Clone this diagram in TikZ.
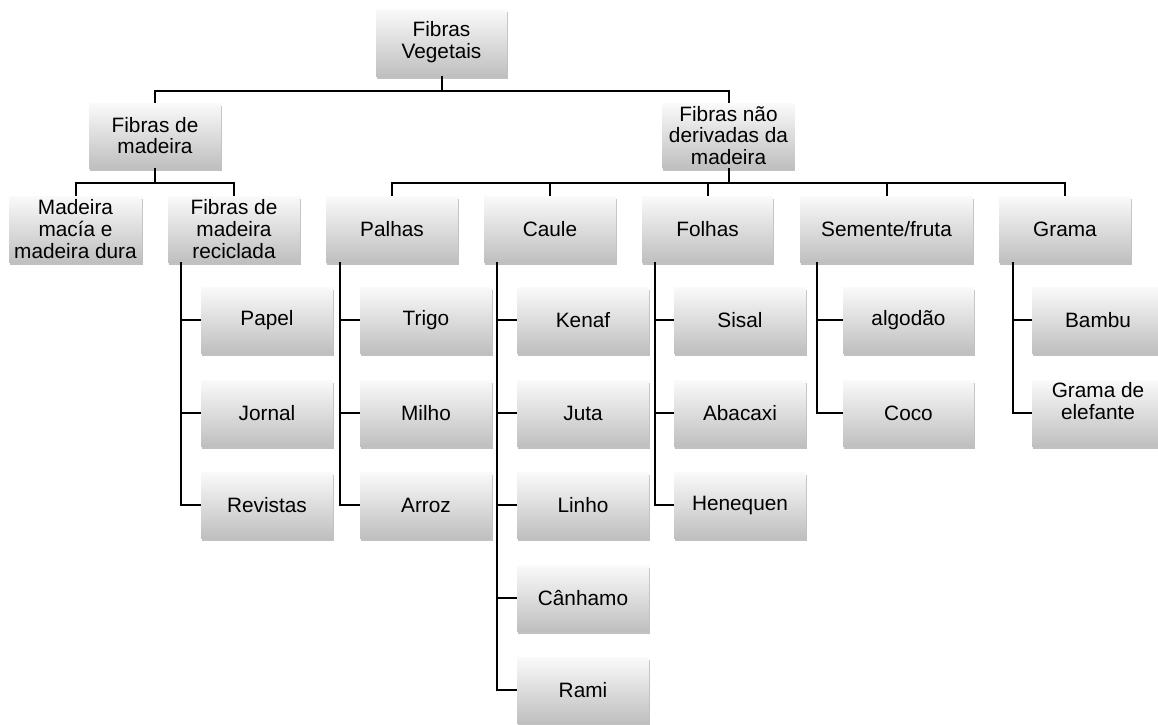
\documentclass[tikz,border=0pt]{standalone}
\usepackage{fontspec}
\setmainfont{Liberation Sans}
\usetikzlibrary{shadows}
\begin{document}
\begin{tikzpicture}[x=1pt,y=-1pt,
  box/.style={minimum width=132pt, minimum height=66pt, inner sep=0pt, align=center,
    top color=black!2, bottom color=black!25, draw=none,
    drop shadow={shadow xshift=0.6pt, shadow yshift=-2.5pt, opacity=0.35, fill=black!70},
    font=\fontsize{20.8}{21.8}\selectfont},
  conn/.style={draw=black, line width=2pt},
  stub/.style={draw=black, line width=1.7pt}]
\useasboundingbox (0,0) rectangle (1158,724);
% level 0
\node[box, minimum width=131pt, minimum height=67pt] (vegetais) at (441.5,42.5) {Fibras\\Vegetais};
% level 1
\node[box, minimum height=65pt] (madeira) at (155,135.5) {Fibras de\\madeira};
\node[box, minimum height=65pt] (naomad) at (728.5,135.5) {Fibras não\\derivadas da\\madeira};
% level 2
\node[box, minimum width=133pt] (macia) at (75.5,229) {Madeira\\macía e\\madeira dura};
\node[box] (recic) at (234,229) {Fibras de\\madeira\\reciclada};
\node[box] (palhas) at (392,229) {Palhas};
\node[box] (caule) at (550,229) {Caule};
\node[box, minimum width=131pt] (folhas) at (707.5,229) {Folhas};
\node[box, minimum width=173pt] (semente) at (886.5,229) {Semente/fruta};
\node[box] (grama) at (1065,229) {Grama};
% level 3
\node[box] (papel) at (267,320) {Papel};
\node[box] (jornal) at (267,413) {Jornal};
\node[box] (revistas) at (267,505) {Revistas};
\node[box] (trigo) at (426,320) {Trigo};
\node[box] (milho) at (426,413) {Milho};
\node[box] (arroz) at (426,505) {Arroz};
\node[box] (kenaf) at (583,320) {Kenaf};
\node[box] (juta) at (583,413) {Juta};
\node[box] (linho) at (583,505) {Linho};
\node[box] (canhamo) at (583,598) {Cânhamo};
\node[box] (rami) at (583,690) {Rami};
\node[box] (sisal) at (740,320) {Sisal};
\node[box] (abacaxi) at (740,413) {Abacaxi};
\node[box] (henequen) at (740,505) {Henequen};
\node[box, minimum width=131pt] (algodao) at (908.5,320) {algodão};
\node[box, minimum width=131pt] (coco) at (908.5,413) {Coco};
\node[box] (bambu) at (1098,320) {Bambu};
\node[box, label={[name=elefantetxt, align=center, yshift=12pt, font=\fontsize{20.8}{21.8}\selectfont]center:{Grama de\\elefante}}] (elefante) at (1098,413) {};
% buses
\coordinate (bus0) at (441.5,90.5);
\coordinate (bus1) at (155,183);
\coordinate (bus2) at (728.5,183);
\draw[conn] (vegetais.south) -- (bus0);
\draw[conn] (madeira.north) |- (bus0) -| (naomad.north);
\draw[conn] (madeira.south) -- (bus1);
\draw[conn] (macia.north) |- (bus1) -| (recic.north);
\draw[conn] (naomad.south) -- (bus2);
\draw[conn] (palhas.north) |- (bus2) -| (grama.north);
\draw[conn] (caule.north) -- (caule.north |- bus2);
\draw[conn] (folhas.north) -- (folhas.north |- bus2);
\draw[conn] (semente.north) -- (semente.north |- bus2);
% children columns
\foreach \p/\dx/\kids in {recic/13/{papel,jornal,revistas},
                          palhas/14/{trigo,milho,arroz},
                          caule/13/{kenaf,juta,linho,canhamo,rami},
                          folhas/13/{sisal,abacaxi,henequen},
                          semente/17/{algodao,coco},
                          grama/14/{bambu,elefante}}{
  \foreach \k in \kids {
    \draw[stub] ([xshift=\dx pt]\p.south west) |- (\k.west);
  }
}
\end{tikzpicture}
\end{document}
